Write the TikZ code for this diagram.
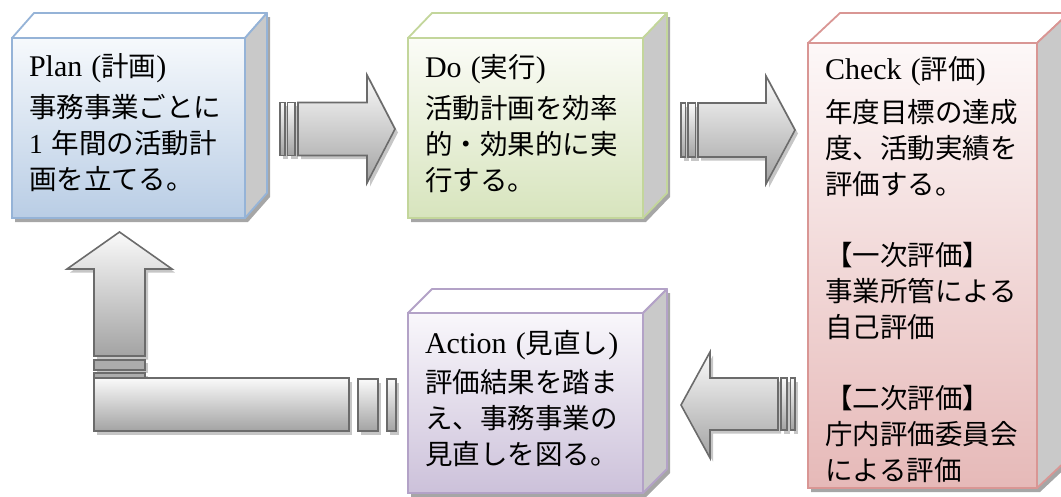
\documentclass[tikz,border=0pt]{standalone}
\usepackage{fontspec}
\setmainfont{Liberation Serif}
\newfontfamily\jp{Noto Sans CJK JP}
\usetikzlibrary{calc}
\pgfdeclarelayer{bg}
\pgfsetlayers{bg,main}
\definecolor{planB}{HTML}{95B3D7}\definecolor{planT}{HTML}{F6F9FC}\definecolor{planL}{HTML}{B9CDE5}
\definecolor{doB}{HTML}{C3D69B}\definecolor{doT}{HTML}{FBFCF7}\definecolor{doL}{HTML}{D7E4BD}
\definecolor{chkB}{HTML}{D99694}\definecolor{chkT}{HTML}{FDF8F8}\definecolor{chkL}{HTML}{E6B9B8}
\definecolor{actB}{HTML}{B3A2C7}\definecolor{actT}{HTML}{F9F7FB}\definecolor{actL}{HTML}{CCC1DA}
\definecolor{sidegray}{HTML}{C9C9C9}
\definecolor{arrline}{HTML}{6B6B6B}\definecolor{arrT}{HTML}{FAFAFA}\definecolor{arrB}{HTML}{A3A3A3}
\definecolor{shadowgray}{HTML}{C6C6C6}
\newcommand\R[1]{{\rmfamily\fontsize{30pt}{36pt}\selectfont #1}}
\newcommand\depthfaces[4]{%
  \draw[topf, draw=#2] (#1.north west) -- ++(#3,-#4) -- ($(#1.north east)+(#3,-#4)$) -- (#1.north east) -- cycle;
  \draw[sidef, draw=#2] (#1.north east) -- ++(#3,-#4) -- ($(#1.south east)+(#3,-#4)$) -- (#1.south east) -- cycle;
  \begin{pgfonlayer}{bg}
    \fill[boxshadow] (#1.north west) -- ++(#3,-#4) -- ($(#1.north east)+(#3,-#4)$) -- ($(#1.south east)+(#3,-#4)$) -- (#1.south east) -- (#1.south west) -- cycle;
  \end{pgfonlayer}}
\tikzset{
  box/.style={line width=1.8pt, inner xsep=17pt, inner ysep=0pt, outer sep=0pt, align=left, anchor=north west,
    font=\jp\fontsize{27.5pt}{36pt}\selectfont},
  topf/.style={line width=1.8pt, fill=white, line join=round},
  sidef/.style={line width=1.8pt, fill=sidegray, line join=round},
  boxshadow/.style={fill=black, opacity=0.35, transform canvas={xshift=3pt, yshift=-4pt}},
  arr/.style={draw=arrline, line width=1.6pt, top color=arrT, bottom color=arrB, line join=miter,
    preaction={fill=shadowgray, transform canvas={xshift=3pt, yshift=-3.5pt}}},
  darkbar/.style={draw=arrline, line width=1.6pt, fill=arrB!90!white,
    preaction={fill=shadowgray, transform canvas={xshift=3pt, yshift=-3pt}}}
}
\begin{document}
\begin{tikzpicture}[x=1pt, y=-1pt]
\useasboundingbox (0,0) rectangle (1061,496);
\clip (0,0) rectangle (1061,496);

% Plan
\node[box, draw=planB, top color=planT, bottom color=planL, text width=199pt, minimum height=180pt] (plan) at (12,38)
  {\R{Plan (}計画\R{)}\\[5pt]事務事業ごとに\\{\rmfamily 1 }年間の活動計\\画を立てる。\rule[-14pt]{0pt}{1pt}};
\depthfaces{plan}{planB}{22}{25}

% Do
\node[box, draw=doB, top color=doT, bottom color=doL, text width=201pt, minimum height=180pt] (do) at (408,38)
  {\R{Do (}実行\R{)}\\[5pt]活動計画を効率\\的・効果的に実\\行する。\rule[-12pt]{0pt}{1pt}};
\depthfaces{do}{doB}{24}{25}

% Check
\node[box, draw=chkB, top color=chkT, bottom color=chkL, text width=195pt, minimum height=445pt] (check) at (808,43)
  {\R{Check (}評価\R{)}\rule{0pt}{32pt}\\[7pt]年度目標の達成\\度、活動実績を\\評価する。\\[35pt]【一次評価】\\事業所管による\\自己評価\\[35pt]【二次評価】\\庁内評価委員会\\による評価};
\depthfaces{check}{chkB}{32}{30}

% Action
\node[box, draw=actB, top color=actT, bottom color=actL, text width=201pt, minimum height=180pt] (action) at (408,313)
  {\R{Action (}見直し\R{)}\\[3pt]評価結果を踏ま\\え、事務事業の\\見直しを図る。\rule[-12pt]{0pt}{1pt}};
\depthfaces{action}{actB}{24}{24}

% Arrow Plan -> Do
\path[arr] (280,102.5) rectangle (285,155.5);
\path[arr] (287.5,102.5) rectangle (295,155.5);
\path[arr] (298,102.5) -- (367,102.5) -- (367,75) -- (395,129) -- (367,183) -- (367,155.5) -- (298,155.5) -- cycle;

% Arrow Do -> Check
\path[arr] (681,103) rectangle (685.5,157);
\path[arr] (688,103) rectangle (695.5,157);
\path[arr] (698,103) -- (766,103) -- (766,76) -- (795,130) -- (766,184) -- (766,157) -- (698,157) -- cycle;

% Arrow Check -> Action
\path[arr] (778,378) -- (710,378) -- (710,352) -- (681,405) -- (710,458) -- (710,430) -- (778,430) -- cycle;
\path[arr] (781,378) rectangle (787,430);
\path[arr] (790.5,378) rectangle (795,430);

% Arrow Action -> Plan (L shape)
\path[arr] (94,356) -- (94,269) -- (67,269) -- (119.5,232) -- (172,269) -- (145,269) -- (145,356) -- cycle;
\path[darkbar] (94,360) rectangle (145,370);
\path[darkbar] (94,373) rectangle (145,379);
\path[arr] (94,378) rectangle (349,431);
\path[arr] (358,379) rectangle (378,431);
\path[arr] (387,379) rectangle (396,431);
\end{tikzpicture}
\end{document}
